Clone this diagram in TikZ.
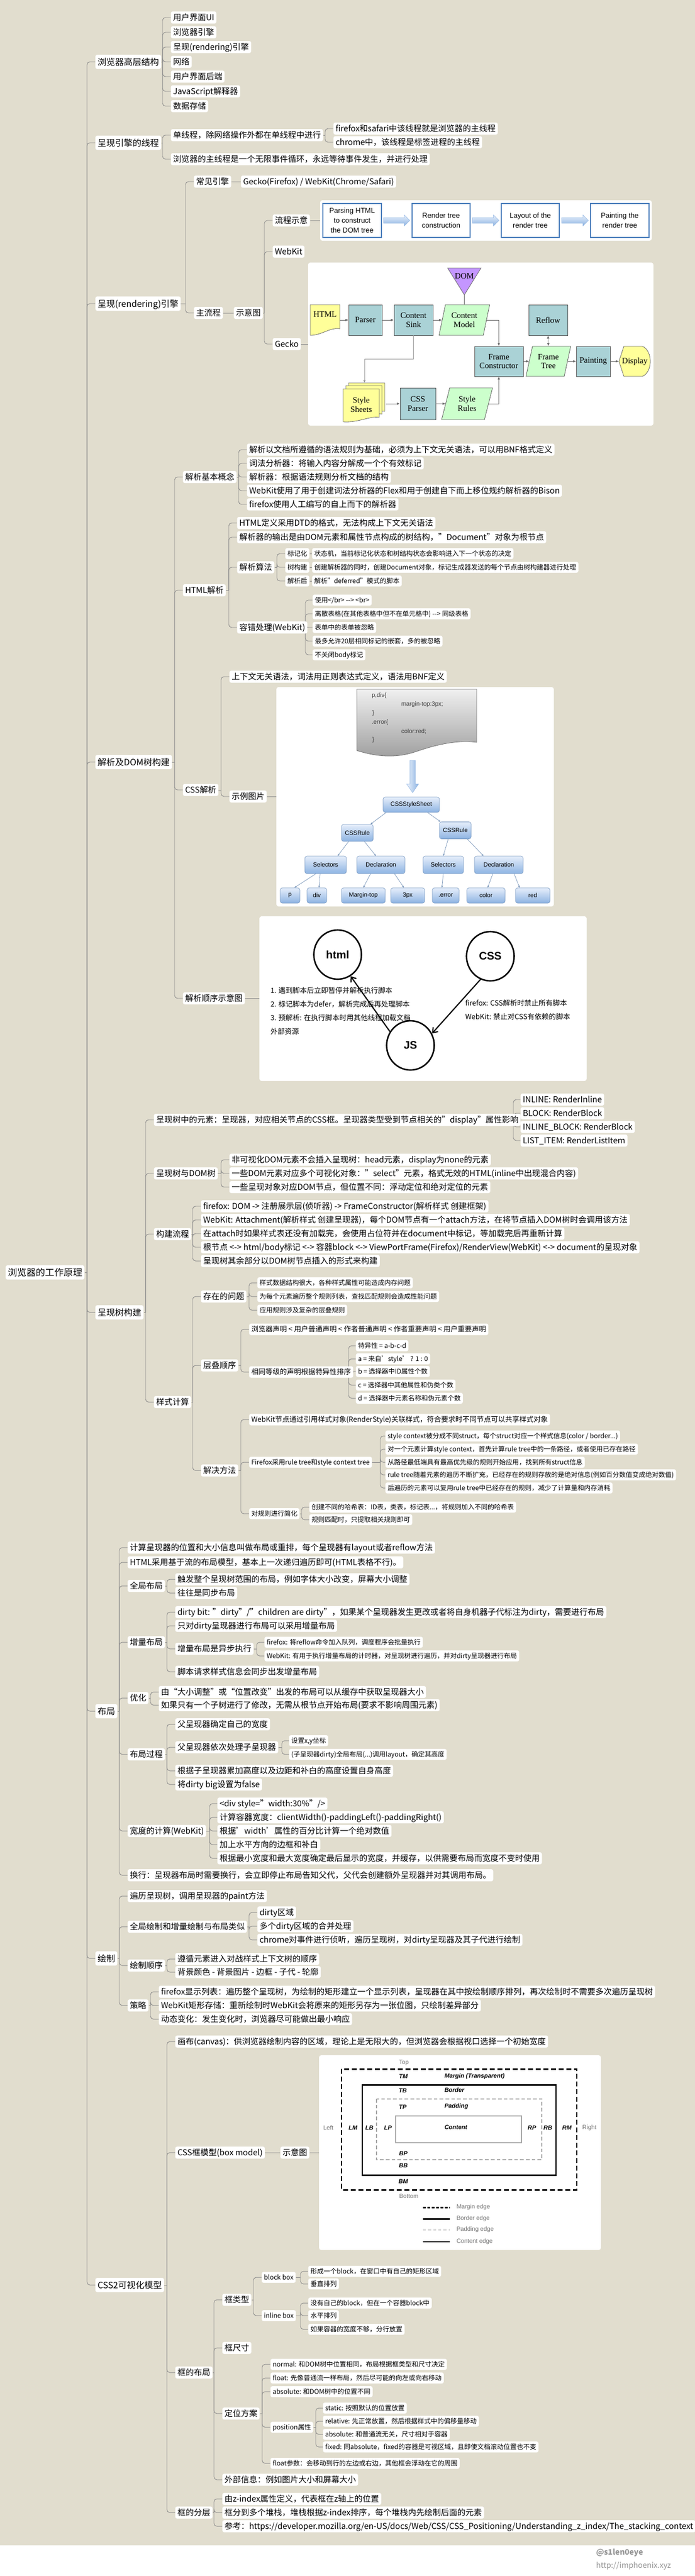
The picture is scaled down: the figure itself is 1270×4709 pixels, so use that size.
\documentclass[tikz,border=0pt]{standalone}
\usepackage{fontspec}
\setmainfont{Noto Sans CJK SC}
\newfontfamily\serifx{Liberation Serif}
\newfontfamily\sansx{Liberation Sans}
\usetikzlibrary{fit,arrows.meta,shapes.geometric,calc}
\pgfdeclarelayer{background}
\pgfsetlayers{background,main}
\definecolor{bgc}{RGB}{225,221,206}
\definecolor{linec}{RGB}{140,140,140}
\definecolor{tealc}{RGB}{170,210,214}
\definecolor{greenc}{RGB}{204,255,204}
\definecolor{yellowc}{RGB}{255,255,153}
\definecolor{purplec}{RGB}{196,150,255}
\definecolor{bluec}{RGB}{79,129,189}
\definecolor{lbluec}{RGB}{214,228,248}
\definecolor{mbluec}{RGB}{141,179,226}
\definecolor{wmc}{RGB}{150,150,150}
\tikzset{
 base/.style={fill=white, rounded corners=2.5pt, inner xsep=3pt, inner ysep=0pt, anchor=west},
 n/.style={base, font=\fontsize{11.25}{13}\selectfont, text height=9.9pt, text depth=1.35pt, minimum height=16.5pt},
 m/.style={base, font=\fontsize{9.75}{12}\selectfont, text height=8.6pt, text depth=1.2pt, minimum height=15.75pt},
 s/.style={base, font=\fontsize{9}{11}\selectfont, text height=7.9pt, text depth=1.1pt, minimum height=15pt},
 tl/.style={base, font=\fontsize{12}{14}\selectfont, text height=10.6pt, text depth=1.4pt, minimum height=19.5pt},
 rootn/.style={base, font=\fontsize{12.75}{15}\selectfont, text height=11.2pt, text depth=1.5pt, minimum height=19.5pt},
 conn/.style={draw=linec, line width=0.7pt, rounded corners=4pt},
 imgb/.style={fill=white, rounded corners=3pt, inner sep=0pt},
 fbox/.style={draw=bluec, line width=1.5pt, fill=white, minimum width=80pt, minimum height=46.5pt, align=center, font=\sansx\fontsize{9.75}{13.5}\selectfont, inner sep=1pt},
 gbox/.style={draw=black!65, fill=tealc, line width=0.6pt, align=center, font=\serifx\fontsize{11.25}{12.5}\selectfont, inner sep=1pt},
 gpar/.style={trapezium, trapezium left angle=74, trapezium right angle=106, trapezium stretches=true, draw=black!65, fill=greenc, line width=0.6pt, align=center, font=\serifx\fontsize{11.25}{12.5}\selectfont, inner sep=1pt},
 glab/.style={align=center, font=\serifx\fontsize{11.25}{12.5}\selectfont, inner sep=0pt},
 garrow/.style={draw=black!60, line width=0.6pt, -{Latex[length=4pt,width=3.5pt]}},
 tnode/.style={draw=mbluec!85!black, line width=0.5pt, rounded corners=3pt, top color=lbluec!60!white, bottom color=mbluec, font=\sansx\fontsize{8.25}{10}\selectfont, inner sep=1pt},
 tarrow/.style={draw=mbluec!80!black, line width=0.5pt, -{Stealth[length=3pt,width=2.5pt]}},
 code/.style={anchor=west, font=\sansx\fontsize{8.25}{10}\selectfont, text=black!75, inner sep=0pt},
 ell/.style={ellipse, draw, line width=2pt, inner sep=0pt, font=\sansx\bfseries\fontsize{15}{18}\selectfont},
 oarrow/.style={line width=1.6pt, -{Straight Barb[length=6pt,width=9pt]}},
 otext/.style={anchor=west, font=\fontsize{9.75}{12}\selectfont, inner sep=0pt},
 bml/.style={font=\sansx\bfseries\itshape\fontsize{8.25}{10}\selectfont, inner sep=0pt},
 bmg/.style={font=\sansx\fontsize{8.25}{10}\selectfont, text=black!55, inner sep=0pt},
}
\newcommand\fork[3]{%
 \coordinate (fkx) at (#2,0);
 \coordinate (fkp) at (#1.east -| fkx);
 \draw[conn] (#1.east) -- (fkp);
 \foreach \c in {#3}{\draw[conn] (fkp) |- (\c.west);}%
}
\newcommand\link[2]{\draw[conn] (#1.east) -- (#1.east -| #2.west);}
\newcommand\barr[2]{\path[top color=lbluec!50!white, bottom color=mbluec, draw=mbluec] ($(#1.east)+(3,-5)$) -- ($(#2.west)+(-13,-5)$) -- ($(#2.west)+(-13,-10)$) -- ($(#2.west)+(-3,0)$) -- ($(#2.west)+(-13,10)$) -- ($(#2.west)+(-13,5)$) -- ($(#1.east)+(3,5)$) -- cycle;}
\newcommand\tarr[4]{\draw[tarrow] ($(#1.south)+(#2,0)$) -- ($(#3.north)+(#4,0)$);}
\begin{document}
\begin{tikzpicture}[x=0.75pt,y=-0.75pt]
\useasboundingbox (0,0) rectangle (1270,4709);
\begin{pgfonlayer}{background}
\fill[bgc] (0,0) rectangle (1270,4653);
\fill[white] (0,4653) rectangle (1270,4709);
\end{pgfonlayer}

% ---------- root and top level ----------
\node[rootn] (root) at (10,2326) {浏览器的工作原理};
\node[tl] (t1) at (174,113) {浏览器高层结构};
\node[tl] (t2) at (174,261) {呈现引擎的线程};
\node[tl] (t3) at (174,555) {呈现(rendering)引擎};
\node[tl] (t4) at (174,1393) {解析及DOM树构建};
\node[tl] (t5) at (174,2399) {呈现树构建};
\node[tl] (t6) at (174,3128) {布局};
\node[tl] (t7) at (174,3580) {绘制};
\node[tl] (t8) at (174,4177) {CSS2可视化模型};

% ---------- section 1 ----------
\node[n] (a1) at (312,32) {用户界面UI};
\node[n] (a2) at (312,59) {浏览器引擎};
\node[n] (a3) at (312,86) {呈现(rendering)引擎};
\node[n] (a4) at (312,113) {网络};
\node[n] (a5) at (312,140) {用户界面后端};
\node[n] (a6) at (312,167) {JavaScript解释器};
\node[n] (a7) at (312,194) {数据存储};
\node[n] (b1) at (312,247) {单线程，除网络操作外都在单线程中进行};
\node[n] (b11) at (609,235) {firefox和safari中该线程就是浏览器的主线程};
\node[n] (b12) at (609,260) {chrome中，该线程是标签进程的主线程};
\node[n] (b2) at (312,291) {浏览器的主线程是一个无限事件循环，永远等待事件发生，并进行处理};
\node[n] (c1) at (354,332) {常见引擎};
\node[n] (c11) at (440,332) {Gecko(Firefox) / WebKit(Chrome/Safari)};
\node[n] (c2) at (354,572) {主流程};
\node[n] (c21) at (427,572) {示意图};
\node[n] (c211) at (498,403) {流程示意};
\node[n] (c212) at (498,460) {WebKit};
\node[n] (c213) at (498,629) {Gecko};

% flow image
\node[imgb, fit={(585,366) (1191,440)}] (imgflow) {};
\node[fbox] (fb1) at (643.5,403) {Parsing HTML\\to construct\\the DOM tree};
\node[fbox] (fb2) at (806,403) {Render tree\\construction};
\node[fbox] (fb3) at (969,403) {Layout of the\\render tree};
\node[fbox] (fb4) at (1132.5,403) {Painting the\\render tree};
\barr{fb1}{fb2}
\barr{fb2}{fb3}
\barr{fb3}{fb4}

% gecko image
\node[imgb, fit={(563,480) (1194,778)}] (imggecko) {};
\fill[purplec, draw=black!60, line width=0.6pt] (818,490) -- (879,490) -- (848.5,539) -- cycle;
\node[glab] (gk_dom) at (848.5,505) {DOM};
\coordinate (gk_domtip) at (848.5,539);
\draw[fill=yellowc, draw=black!60, line width=0.6pt] (567,557) -- (621,557) -- (621,601) .. controls (603,598) and (588,613) .. (567,613) -- cycle;
\node[glab, minimum width=40.5pt, minimum height=42pt] (gk_html) at (594,585) {HTML\\[3pt]};
\node[gbox, minimum width=45.75pt, minimum height=42pt] (gk_parser) at (667.5,585) {Parser};
\node[gbox, minimum width=53.25pt, minimum height=42pt] (gk_sink) at (755.5,585) {Content\\Sink};
\node[gpar, minimum width=69.75pt, minimum height=42pt] (gk_model) at (848.5,585) {Content\\Model};
\node[gbox, minimum width=53.25pt, minimum height=42pt] (gk_reflow) at (1001.5,585) {Reflow};
\node[gbox, minimum width=66.75pt, minimum height=41.25pt] (gk_fc) at (911.5,660.5) {Frame\\Constructor};
\node[gpar, minimum width=61.5pt, minimum height=41.25pt] (gk_ft) at (1002,660.5) {Frame\\Tree};
\node[gbox, minimum width=46.5pt, minimum height=41.25pt] (gk_paint) at (1084,660.5) {Painting};
\draw[fill=yellowc, draw=black!60, line width=0.6pt] (1140,633) -- (1174,633) .. controls (1193,641) and (1193,680) .. (1174,688) -- (1140,688) -- (1131,660.5) -- cycle;
\node[glab, minimum width=43.5pt, minimum height=41.25pt] (gk_disp) at (1160,660.5) {Display};
\foreach \dx/\dy in {10/-11,5/-6,0/0}{
 \draw[fill=yellowc, draw=black!60, line width=0.6pt] (627+\dx,711+\dy) -- (693+\dx,711+\dy) -- (693+\dx,763+\dy) .. controls (676+\dx,760+\dy) and (655+\dx,773+\dy) .. (627+\dx,771+\dy) -- cycle;}
\node[glab, minimum width=58.5pt, minimum height=56pt] (gk_ss) at (666,736) {};
\node[glab] (gk_sst) at (660,740) {Style\\Sheets};
\coordinate (gk_sstop) at (666,700);
\node[gbox, minimum width=48.75pt, minimum height=43.5pt] (gk_cssp) at (763.5,738) {CSS\\Parser};
\node[gpar, minimum width=69.75pt, minimum height=43.5pt] (gk_sr) at (853.5,738) {Style\\Rules};
\draw[black!60, line width=0.6pt] (gk_domtip) -- (gk_model.north);
\draw[garrow] (gk_html.east) -- (gk_parser.west);
\draw[garrow] (gk_parser.east) -- (gk_sink.west);
\draw[garrow] (gk_sink.east) -- (gk_model.west);
\draw[garrow] (gk_model.east) -| (gk_fc.north);
\draw[garrow, draw=black!40] (gk_sink.south) -- ++(0,43) -| (gk_sstop);
\draw[garrow] (gk_cssp.west -| gk_ss.east) -- (gk_cssp.west);
\draw[garrow] (gk_cssp.east) -- (gk_sr.west);
\draw[garrow] (gk_sr.east) -| (gk_fc.south);
\draw[garrow] (gk_fc.east) -- (gk_ft.west);
\draw[garrow] (gk_ft.east) -- (gk_paint.west);
\draw[garrow] (gk_paint.east) -- (gk_disp.west);
\draw[garrow, {Latex[length=4pt,width=3.5pt]}-{Latex[length=4pt,width=3.5pt]}] (gk_reflow.south) -- (gk_ft.north);

% ---------- section: parsing ----------
\node[n] (d1) at (334,872) {解析基本概念};
\node[n] (d11) at (451,822) {解析以文档所遵循的语法规则为基础，必须为上下文无关语法，可以用BNF格式定义};
\node[n] (d12) at (451,847) {词法分析器：将输入内容分解成一个个有效标记};
\node[n] (d13) at (451,872) {解析器：根据语法规则分析文档的结构};
\node[n] (d14) at (451,897) {WebKit使用了用于创建词法分析器的Flex和用于创建自下而上移位规约解析器的Bison};
\node[n] (d15) at (451,922) {firefox使用人工编写的自上而下的解析器};
\node[n] (d2) at (334,1079) {HTML解析};
\node[n] (d21) at (433,956) {HTML定义采用DTD的格式，无法构成上下文无关语法};
\node[n] (d22) at (433,982) {解析器的输出是由DOM元素和属性节点构成的树结构，"Document"对象为根节点};
\node[n] (d23) at (433,1037) {解析算法};
\node[s] (d231) at (521,1012) {标记化};
\node[s] (d2311) at (570,1012) {状态机，当前标记化状态和树结构状态会影响进入下一个状态的决定};
\node[s] (d232) at (521,1037) {树构建};
\node[s] (d2321) at (570,1037) {创建解析器的同时，创建Document对象，标记生成器发送的每个节点由树构建器进行处理};
\node[s] (d233) at (521,1062) {解析后};
\node[s] (d2331) at (570,1062) {解析"deferred"模式的脚本};
\node[n] (d24) at (433,1147) {容错处理(WebKit)};
\node[s] (d241) at (571,1097) {使用</br> -{}-> <br>};
\node[s] (d242) at (571,1122) {离散表格(在其他表格中但不在单元格中) -{}-> 同级表格};
\node[s] (d243) at (571,1147) {表单中的表单被忽略};
\node[s] (d244) at (571,1172) {最多允许20层相同标记的嵌套，多的被忽略};
\node[s] (d245) at (571,1197) {不关闭body标记};
\node[n] (d3) at (334,1444) {CSS解析};
\node[n] (d31) at (419,1237) {上下文无关语法，词法用正则表达式定义，语法用BNF定义};
\node[n] (d32) at (419,1456) {示例图片};
\node[n] (d4) at (334,1825) {解析顺序示意图};

% css image
\node[imgb, fit={(505,1256) (1012,1657)}] (imgcss) {};
\draw[top color=black!6, bottom color=black!38, draw=black!55, line width=0.6pt] (652,1260) -- (871,1260) -- (871,1357) .. controls (835,1352) and (795,1362) .. (760,1374) .. controls (725,1386) and (690,1384) .. (652,1372) -- cycle;
\node[code] (cd1) at (679,1272) {p,div\{};
\node[code] (cd2) at (733,1288) {margin-top:3px;};
\node[code] (cd3) at (680,1304) {\}};
\node[code] (cd4) at (679,1321) {.error\{};
\node[code] (cd5) at (733,1337) {color:red;};
\node[code] (cd6) at (680,1353) {\}};
\path[left color=lbluec!40!white, right color=mbluec, draw=mbluec] (749,1390) -- (759,1390) -- (759,1433) -- (765,1433) -- (754,1449) -- (743,1433) -- (749,1433) -- cycle;
\node[tnode, minimum width=77.25pt, minimum height=21pt] (sheet) at (751.5,1471) {CSSStyleSheet};
\node[tnode, minimum width=43.5pt, minimum height=23.25pt] (rule1) at (653,1522.5) {CSSRule};
\node[tnode, minimum width=43.5pt, minimum height=23.25pt] (rule2) at (832,1518) {CSSRule};
\node[tnode, minimum width=57pt, minimum height=24pt] (sel1) at (595,1581) {Selectors};
\node[tnode, minimum width=66pt, minimum height=24pt] (dec1) at (696,1581) {Declaration};
\node[tnode, minimum width=55.5pt, minimum height=24pt] (sel2) at (810,1581) {Selectors};
\node[tnode, minimum width=66.75pt, minimum height=24pt] (dec2) at (911.5,1581) {Declaration};
\node[tnode, minimum width=27pt, minimum height=21pt] (lp) at (530,1637) {p};
\node[tnode, minimum width=27pt, minimum height=21pt] (ldiv) at (579,1637) {div};
\node[tnode, minimum width=60pt, minimum height=21pt] (lmt) at (664,1637) {Margin-top};
\node[tnode, minimum width=46.5pt, minimum height=21pt] (lpx) at (745,1637) {3px};
\node[tnode, minimum width=36.75pt, minimum height=21pt] (lerr) at (814.5,1637) {.error};
\node[tnode, minimum width=52.5pt, minimum height=21pt] (lcol) at (888,1637) {color};
\node[tnode, minimum width=47.25pt, minimum height=21pt] (lred) at (973.5,1637) {red};
\tarr{sheet}{-46}{rule1}{24}
\tarr{sheet}{30}{rule2}{-27}
\tarr{rule1}{-16}{sel1}{22}
\tarr{rule1}{13}{dec1}{-9}
\tarr{rule2}{-13}{sel2}{0}
\tarr{rule2}{22}{dec2}{-28}
\tarr{sel1}{-18}{lp}{8}
\tarr{sel1}{-10}{ldiv}{4}
\tarr{dec1}{-19}{lmt}{0}
\tarr{dec1}{25}{lpx}{-7}
\tarr{sel2}{0}{lerr}{-7}
\tarr{dec2}{-11}{lcol}{3}
\tarr{dec2}{28}{lred}{-24}

% parse order image
\node[imgb, fit={(474,1675) (1072,1976)}] (imgorder) {};
\node[ell, minimum width=65.25pt, minimum height=67.5pt] (oh) at (617,1745) {html};
\node[ell, minimum width=65.25pt, minimum height=67.5pt] (oc) at (896,1748) {CSS};
\node[ell, minimum width=65.25pt, minimum height=67.5pt] (oj) at (750,1911) {JS};
\node[otext] (ot1) at (494,1811) {1. 遇到脚本后立即暂停并解析执行脚本};
\node[otext] (ot2) at (494,1836) {2. 标记脚本为defer，解析完成后再处理脚本};
\node[otext] (ot3) at (494,1861) {3. 预解析: 在执行脚本时用其他线程加载文档};
\node[otext] (ot4) at (494,1886) {外部资源};
\node[otext] (ot5) at (850,1834) {firefox: CSS解析时禁止所有脚本};
\node[otext] (ot6) at (850,1859) {WebKit: 禁止对CSS有依赖的脚本};
\draw[oarrow] (oj.146) -- (oh.-59);
\draw[oarrow] (oc.-113) -- (oj.29);

% ---------- section: render tree ----------
\node[n] (e1) at (281,2047) {呈现树中的元素：呈现器，对应相关节点的CSS框。呈现器类型受到节点相关的"display"属性影响};
\node[n] (e11) at (951,2010) {INLINE: RenderInline};
\node[n] (e12) at (951,2035) {BLOCK: RenderBlock};
\node[n] (e13) at (951,2060) {INLINE\_BLOCK: RenderBlock};
\node[n] (e14) at (951,2085) {LIST\_ITEM: RenderListItem};
\node[n] (e2) at (281,2145) {呈现树与DOM树};
\node[n] (e21) at (419,2120) {非可视化DOM元素不会插入呈现树：head元素，display为none的元素};
\node[n] (e22) at (419,2145) {一些DOM元素对应多个可视化对象："select"元素，格式无效的HTML(inline中出现混合内容)};
\node[n] (e23) at (419,2170) {一些呈现对象对应DOM节点，但位置不同：浮动定位和绝对定位的元素};
\node[n] (e3) at (281,2256) {构建流程};
\node[n] (e31) at (367,2205) {firefox: DOM -> 注册展示层(侦听器) -> FrameConstructor(解析样式 创建框架)};
\node[n] (e32) at (367,2230) {WebKit: Attachment(解析样式 创建呈现器)，每个DOM节点有一个attach方法，在将节点插入DOM树时会调用该方法};
\node[n] (e33) at (367,2255) {在attach时如果样式表还没有加载完，会使用占位符并在document中标记，等加载完后再重新计算};
\node[n] (e34) at (367,2280) {根节点 <-> html/body标记 <-> 容器block <-> ViewPortFrame(Firefox)/RenderView(WebKit) <-> document的呈现对象};
\node[n] (e35) at (367,2305) {呈现树其余部分以DOM树节点插入的形式来构建};
\node[n] (e4) at (281,2563) {样式计算};
\node[n] (e41) at (367,2370) {存在的问题};
\node[s] (e411) at (470,2345) {样式数据结构很大，各种样式属性可能造成内存问题};
\node[s] (e412) at (470,2370) {为每个元素遍历整个规则列表，查找匹配规则会造成性能问题};
\node[s] (e413) at (470,2395) {应用规则涉及复杂的层叠规则};
\node[n] (e42) at (367,2496) {层叠顺序};
\node[m] (e421) at (455,2430) {浏览器声明 < 用户普通声明 < 作者普通声明 < 作者重要声明 < 用户重要声明};
\node[m] (e422) at (455,2508) {相同等级的声明根据特异性排序};
\node[s] (e4221) at (650,2460) {特异性 = a-b-c-d};
\node[s] (e4222) at (650,2484) {a = 来自\char39 style\char39\ ? 1 : 0};
\node[s] (e4223) at (650,2507) {b = 选择器中ID属性个数};
\node[s] (e4224) at (650,2532) {c = 选择器中其他属性和伪类个数};
\node[s] (e4225) at (650,2556) {d = 选择器中元素名称和伪元素个数};
\node[n] (e43) at (367,2688) {解决方法};
\node[m] (e431) at (455,2595) {WebKit节点通过引用样式对象(RenderStyle)关联样式，符合要求时不同节点可以共享样式对象};
\node[s] (e432) at (455,2673) {Firefox采用rule tree和style context tree};
\node[s] (e4321) at (704,2625) {style context被分成不同struct，每个struct对应一个样式信息(color / border...)};
\node[s] (e4322) at (704,2649) {对一个元素计算style context，首先计算rule tree中的一条路径，或者使用已存在路径};
\node[s] (e4323) at (704,2673) {从路径最低端具有最高优先级的规则开始应用，找到所有struct信息};
\node[s] (e4324) at (704,2696) {rule tree随着元素的遍历不断扩充，已经存在的规则存放的是绝对信息(例如百分数值变成绝对数值)};
\node[s] (e4325) at (704,2720) {后遍历的元素可以复用rule tree中已经存在的规则，减少了计算量和内存消耗};
\node[s] (e433) at (455,2767) {对规则进行简化};
\node[s] (e4331) at (565,2755) {创建不同的哈希表：ID表，类表，标记表...，将规则加入不同的哈希表};
\node[s] (e4332) at (565,2778) {规则匹配时，只提取相关规则即可};

% ---------- section: layout ----------
\node[n] (f1) at (233,2829) {计算呈现器的位置和大小信息叫做布局或重排，每个呈现器有layout或者reflow方法};
\node[n] (f2) at (233,2856) {HTML采用基于流的布局模型，基本上一次递归遍历即可(HTML表格不行)。};
\node[n] (f3) at (233,2899) {全局布局};
\node[n] (f31) at (320,2887) {触发整个呈现树范围的布局，例如字体大小改变，屏幕大小调整};
\node[n] (f32) at (320,2912) {往往是同步布局};
\node[n] (f4) at (233,3002) {增量布局};
\node[n] (f41) at (320,2947) {dirty bit: "dirty"/"children are dirty"，如果某个呈现器发生更改或者将自身机器子代标注为dirty，需要进行布局};
\node[n] (f42) at (320,2972) {只对dirty呈现器进行布局可以采用增量布局};
\node[n] (f43) at (320,3014) {增量布局是异步执行};
\node[s] (f431) at (483,3002) {firefox: 将reflow命令加入队列，调度程序会批量执行};
\node[s] (f432) at (483,3027) {WebKit: 有用于执行增量布局的计时器，对呈现树进行遍历，并对dirty呈现器进行布局};
\node[n] (f44) at (320,3056) {脚本请求样式信息会同步出发增量布局};
\node[n] (f5) at (233,3104) {优化};
\node[n] (f51) at (290,3093) {由“大小调整”或“位置改变”出发的布局可以从缓存中获取呈现器大小};
\node[n] (f52) at (290,3117) {如果只有一个子树进行了修改，无需从根节点开始布局(要求不影响周围元素)};
\node[n] (f6) at (233,3207) {布局过程};
\node[n] (f61) at (320,3152) {父呈现器确定自己的宽度};
\node[n] (f62) at (320,3194) {父呈现器依次处理子呈现器};
\node[s] (f621) at (528,3182) {设置x,y坐标};
\node[s] (f622) at (528,3207) {(子呈现器dirty)全局布局(...)调用layout，确定其高度};
\node[n] (f63) at (320,3237) {根据子呈现器累加高度以及边距和补白的高度设置自身高度};
\node[n] (f64) at (320,3262) {将dirty big设置为false};
\node[n] (f7) at (233,3347) {宽度的计算(WebKit)};
\node[n] (f71) at (397,3297) {<div style="width:30\%"/>};
\node[n] (f72) at (397,3322) {计算容器宽度：clientWidth()-paddingLeft()-paddingRight()};
\node[n] (f73) at (397,3347) {根据\char39 width\char39 属性的百分比计算一个绝对数值};
\node[n] (f74) at (397,3372) {加上水平方向的边框和补白};
\node[n] (f75) at (397,3397) {根据最小宽度和最大宽度确定最后显示的宽度，并缓存，以供需要布局而宽度不变时使用};
\node[n] (f8) at (233,3428) {换行：呈现器布局时需要换行，会立即停止布局告知父代，父代会创建额外呈现器并对其调用布局。};

% ---------- section: painting ----------
\node[n] (g1) at (233,3466) {遍历呈现树，调用呈现器的paint方法};
\node[n] (g2) at (233,3522) {全局绘制和增量绘制与布局类似};
\node[n] (g21) at (470,3496) {dirty区域};
\node[n] (g22) at (470,3521) {多个dirty区域的合并处理};
\node[n] (g23) at (470,3546) {chrome对事件进行侦听，遍历呈现树，对dirty呈现器及其子代进行绘制};
\node[n] (g3) at (233,3593) {绘制顺序};
\node[n] (g31) at (320,3581) {遵循元素进入对战样式上下文树的顺序};
\node[n] (g32) at (320,3605) {背景颜色 - 背景图片 - 边框 - 子代 - 轮廓};
\node[n] (g4) at (233,3666) {策略};
\node[n] (g41) at (290,3641) {firefox显示列表：遍历整个呈现树，为绘制的矩形建立一个显示列表，呈现器在其中按绘制顺序排列，再次绘制时不需要多次遍历呈现树};
\node[n] (g42) at (290,3666) {WebKit矩形存储：重新绘制时WebKit会将原来的矩形另存为一张位图，只绘制差异部分};
\node[n] (g43) at (290,3691) {动态变化：发生变化时，浏览器尽可能做出最小响应};

% ---------- section: CSS2 ----------
\node[n] (h1) at (320,3732) {画布(canvas)：供浏览器绘制内容的区域，理论上是无限大的，但浏览器会根据视口选择一个初始宽度};
\node[n] (h2) at (320,3935) {CSS框模型(box model)};
\node[n] (h21) at (512,3935) {示意图};
\node[imgb, fit={(583,3757) (1098,4113)}] (imgbox) {};
\draw[line width=2.2pt, dash pattern=on 7pt off 3.5pt] (624,3782) rectangle (1054,4003);
\draw[line width=2.2pt] (662,3811) rectangle (1016,3976);
\draw[line width=0.9pt, draw=black!35, dash pattern=on 5pt off 3pt] (688,3837) rectangle (990,3948);
\draw[line width=0.9pt, draw=black!35] (723,3868) rectangle (953,3917);
\node[bmg] (bm1) at (738,3771) {Top};
\node[bmg] (bm2) at (747,4015) {Bottom};
\node[bmg] (bm3) at (600,3890) {Left};
\node[bmg] (bm4) at (1077,3890) {Right};
\node[bml] (bm5) at (737,3796) {TM};
\node[bml, anchor=west] (bm6) at (812,3796) {Margin (Transparent)};
\node[bml] (bm7) at (736,3822) {TB};
\node[bml, anchor=west] (bm8) at (812,3821) {Border};
\node[bml] (bm9) at (736,3852) {TP};
\node[bml, anchor=west] (bm10) at (812,3851) {Padding};
\node[bml] (bm11) at (645,3890) {LM};
\node[bml] (bm12) at (675,3890) {LB};
\node[bml] (bm13) at (709,3890) {LP};
\node[bml, anchor=west] (bm14) at (812,3889) {Content};
\node[bml] (bm15) at (972,3890) {RP};
\node[bml] (bm16) at (1001,3890) {RB};
\node[bml] (bm17) at (1036,3890) {RM};
\node[bml] (bm18) at (737,3937) {BP};
\node[bml] (bm19) at (737,3959) {BB};
\node[bml] (bm20) at (737,3988) {BM};
\draw[line width=2.2pt, dash pattern=on 4pt off 2pt] (773,4035) -- (822,4035);
\draw[line width=2.2pt] (773,4056) -- (822,4056);
\draw[line width=0.8pt, draw=black!35, dash pattern=on 4pt off 3pt] (773,4076) -- (822,4076);
\draw[line width=1.2pt] (773,4098) -- (822,4098);
\node[bmg, anchor=west] (lg1) at (834,4035) {Margin edge};
\node[bmg, anchor=west] (lg2) at (834,4056) {Border edge};
\node[bmg, anchor=west] (lg3) at (834,4076) {Padding edge};
\node[bmg, anchor=west] (lg4) at (834,4098) {Content edge};

\node[n] (h3) at (320,4337) {框的布局};
\node[n] (h31) at (406,4204) {框类型};
\node[s] (h311) at (478,4163) {block box};
\node[s] (h3111) at (563,4152) {形成一个block，在窗口中有自己的矩形区域};
\node[s] (h3112) at (563,4175) {垂直排列};
\node[s] (h312) at (478,4233) {inline box};
\node[s] (h3121) at (563,4210) {没有自己的block，但在一个容器block中};
\node[s] (h3122) at (563,4233) {水平排列};
\node[s] (h3123) at (563,4258) {如果容器的宽度不够，分行放置};
\node[n] (h32) at (406,4292) {框尺寸};
\node[n] (h33) at (406,4412) {定位方案};
\node[s] (h331) at (494,4322) {normal: 和DOM树中位置相同，布局根据框类型和尺寸决定};
\node[s] (h332) at (494,4347) {float: 先像普通流一样布局，然后尽可能的向左或向右移动};
\node[s] (h333) at (494,4372) {absolute: 和DOM树中的位置不同};
\node[s] (h334) at (494,4437) {position属性};
\node[s] (h3341) at (590,4402) {static: 按照默认的位置放置};
\node[s] (h3342) at (590,4426) {relative: 先正常放置，然后根据样式中的偏移量移动};
\node[s] (h3343) at (590,4450) {absolute: 和普通流无关，尺寸相对于容器};
\node[s] (h3344) at (590,4473) {fixed: 同absolute，fixed的容器是可视区域，且即使文档滚动位置也不变};
\node[s] (h335) at (494,4503) {float参数：会移动到行的左边或右边，其他框会浮动在它的周围};
\node[n] (h34) at (406,4533) {外部信息：例如图片大小和屏幕大小};
\node[n] (h4) at (320,4593) {框的分层};
\node[n] (h41) at (406,4568) {由z-index属性定义，代表框在z轴上的位置};
\node[n] (h42) at (406,4593) {框分到多个堆栈，堆栈根据z-index排序，每个堆栈内先绘制后面的元素};
\node[n] (h43) at (406,4618) {参考：https://developer.mozilla.org/en-US/docs/Web/CSS/CSS\_Positioning/Understanding\_z\_index/The\_stacking\_context};

% watermark
\node[anchor=west, text=wmc, font=\bfseries\fontsize{10.5}{12}\selectfont, inner sep=0pt] (wm1) at (1089,4666) {@s1len0eye};
\node[anchor=west, text=wmc, font=\fontsize{10.5}{12}\selectfont, inner sep=0pt] (wm2) at (1089,4691) {http://imphoenix.xyz};

% ---------- connectors ----------
\begin{pgfonlayer}{background}
\fork{root}{159}{t1,t2,t3,t4,t5,t6,t7,t8}
\fork{t1}{297}{a1,a2,a3,a4,a5,a6,a7}
\fork{t2}{297}{b1,b2}
\fork{b1}{594}{b11,b12}
\fork{t3}{339}{c1,c2}
\link{c1}{c11}
\link{c2}{c21}
\fork{c21}{483}{c211,c212,c213}
\link{c211}{imgflow}
\link{c213}{imggecko}
\fork{t4}{319}{d1,d2,d3,d4}
\fork{d1}{436}{d11,d12,d13,d14,d15}
\fork{d2}{418}{d21,d22,d23,d24}
\fork{d23}{506}{d231,d232,d233}
\link{d231}{d2311}
\link{d232}{d2321}
\link{d233}{d2331}
\fork{d24}{558}{d241,d242,d243,d244,d245}
\fork{d3}{404}{d31,d32}
\link{d32}{imgcss}
\link{d4}{imgorder}
\fork{t5}{266}{e1,e2,e3,e4}
\fork{e1}{938}{e11,e12,e13,e14}
\fork{e2}{404}{e21,e22,e23}
\fork{e3}{352}{e31,e32,e33,e34,e35}
\fork{e4}{352}{e41,e42,e43}
\fork{e41}{455}{e411,e412,e413}
\fork{e42}{440}{e421,e422}
\fork{e422}{637}{e4221,e4222,e4223,e4224,e4225}
\fork{e43}{440}{e431,e432,e433}
\fork{e432}{695}{e4321,e4322,e4323,e4324,e4325}
\fork{e433}{551}{e4331,e4332}
\fork{t6}{218}{f1,f2,f3,f4,f5,f6,f7,f8}
\fork{f3}{305}{f31,f32}
\fork{f4}{305}{f41,f42,f43,f44}
\fork{f43}{469}{f431,f432}
\fork{f5}{275}{f51,f52}
\fork{f6}{305}{f61,f62,f63,f64}
\fork{f62}{515}{f621,f622}
\fork{f7}{383}{f71,f72,f73,f74,f75}
\fork{t7}{218}{g1,g2,g3,g4}
\fork{g2}{455}{g21,g22,g23}
\fork{g3}{305}{g31,g32}
\fork{g4}{275}{g41,g42,g43}
\fork{t8}{305}{h1,h2,h3,h4}
\link{h2}{h21}
\link{h21}{imgbox}
\fork{h3}{391}{h31,h32,h33,h34}
\fork{h31}{463}{h311,h312}
\fork{h311}{549}{h3111,h3112}
\fork{h312}{549}{h3121,h3122,h3123}
\fork{h33}{479}{h331,h332,h333,h334,h335}
\fork{h334}{577}{h3341,h3342,h3343,h3344}
\fork{h4}{391}{h41,h42,h43}
\end{pgfonlayer}
\end{tikzpicture}
\end{document}
